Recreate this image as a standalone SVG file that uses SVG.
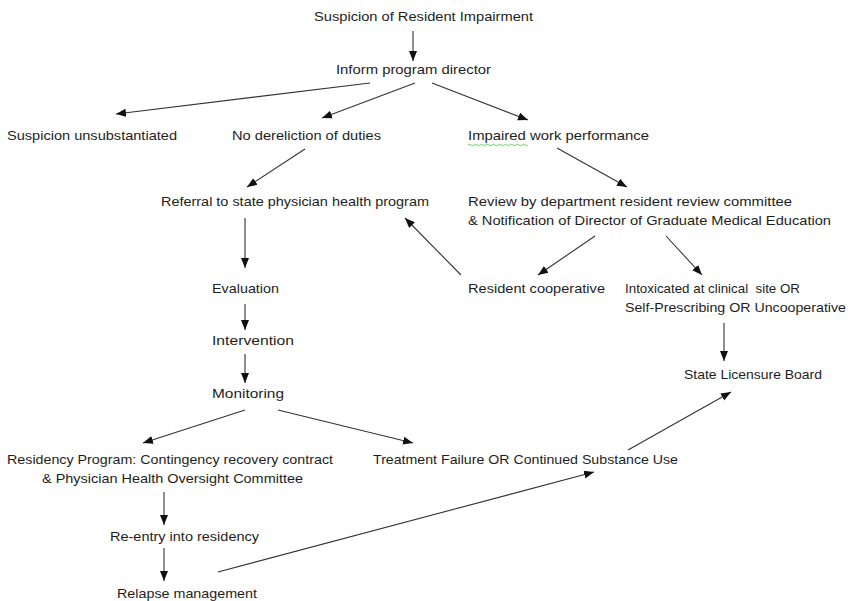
<svg xmlns="http://www.w3.org/2000/svg" width="851" height="601" viewBox="0 0 851 601">
<style>
text{font-family:"Liberation Sans",Arial,sans-serif;font-size:13px;fill:#1e1e1e;}
.c line{stroke:#333;stroke-width:1.1;marker-end:url(#ah);}
.c line.n{marker-end:none;}
</style>
<defs>
<marker id="ah" markerUnits="userSpaceOnUse" markerWidth="10" markerHeight="10" viewBox="0 0 10 10" refX="10" refY="5" orient="auto">
<path d="M0,1 L10,5 L0,9 Z" fill="#111"/>
</marker>
</defs>
<rect width="851" height="601" fill="#fff"/>
<g class="c" id="connectors">
<line x1="413" y1="31" x2="413" y2="61"/>
<line x1="370" y1="83" x2="116" y2="114"/>
<line x1="415" y1="83" x2="322" y2="118"/>
<line x1="432" y1="83" x2="528" y2="120"/>
<line x1="305" y1="149" x2="247" y2="187"/>
<line x1="557" y1="148" x2="627" y2="187"/>
<line x1="595" y1="236" x2="538" y2="275"/>
<line x1="666" y1="236" x2="702" y2="275"/>
<line x1="461" y1="275" x2="405" y2="218"/>
<line x1="245" y1="218" x2="245" y2="268"/>
<line x1="245" y1="304" x2="245" y2="330"/>
<line x1="245" y1="354" x2="245" y2="383"/>
<line x1="245" y1="410" x2="143" y2="443"/>
<line x1="278" y1="410" x2="413" y2="443"/>
<line x1="164" y1="492" x2="164" y2="525"/>
<line x1="164" y1="548" x2="164" y2="581"/>
<line x1="218" y1="572" x2="594" y2="472"/>
<line x1="628" y1="450" x2="731" y2="392"/>
<line x1="724" y1="323" x2="724" y2="361"/>
</g>
<g id="n-suspicion"><text x="314" y="21" textLength="219" lengthAdjust="spacingAndGlyphs">Suspicion of Resident Impairment</text></g>
<g id="n-inform"><text x="336" y="74" textLength="155" lengthAdjust="spacingAndGlyphs">Inform program director</text></g>
<g id="n-unsub"><text x="7" y="140" textLength="170" lengthAdjust="spacingAndGlyphs">Suspicion unsubstantiated</text></g>
<g id="n-nodereliction"><text x="232" y="140" textLength="149" lengthAdjust="spacingAndGlyphs">No dereliction of duties</text></g>
<g id="n-impaired"><text x="468" y="140" textLength="181" lengthAdjust="spacingAndGlyphs">Impaired work performance</text>
<path d="M468,145 q1.5,-1.5 3,0 t3,0 t3,0 t3,0 t3,0 t3,0 t3,0 t3,0 t3,0 t3,0 t3,0 t3,0 t3,0 t3,0 t3,0 t3,0 t3,0 t3,0 t3,0 t3,0" fill="none" stroke="#4cb84c" stroke-width="0.8"/></g>
<g id="n-referral"><text x="161" y="206" textLength="268" lengthAdjust="spacingAndGlyphs">Referral to state physician health program</text></g>
<g id="n-review"><text x="468" y="206" textLength="324" lengthAdjust="spacingAndGlyphs">Review by department resident review committee</text>
<text x="468" y="225" textLength="363" lengthAdjust="spacingAndGlyphs">&amp; Notification of Director of Graduate Medical Education</text></g>
<g id="n-cooperative"><text x="468" y="293" textLength="137" lengthAdjust="spacingAndGlyphs">Resident cooperative</text></g>
<g id="n-intoxicated"><text x="625" y="293" textLength="175" lengthAdjust="spacingAndGlyphs" xml:space="preserve">Intoxicated at clinical  site OR</text>
<text x="625" y="312" textLength="221" lengthAdjust="spacingAndGlyphs">Self-Prescribing OR Uncooperative</text></g>
<g id="n-evaluation"><text x="212" y="293" textLength="67" lengthAdjust="spacingAndGlyphs">Evaluation</text></g>
<g id="n-intervention"><text x="212" y="345" textLength="82" lengthAdjust="spacingAndGlyphs">Intervention</text></g>
<g id="n-monitoring"><text x="212" y="398" textLength="72" lengthAdjust="spacingAndGlyphs">Monitoring</text></g>
<g id="n-board"><text x="684" y="379" textLength="138" lengthAdjust="spacingAndGlyphs">State Licensure Board</text></g>
<g id="n-residency"><text x="7" y="464" textLength="326" lengthAdjust="spacingAndGlyphs">Residency Program: Contingency recovery contract</text>
<text x="42" y="483" textLength="261" lengthAdjust="spacingAndGlyphs">&amp; Physician Health Oversight Committee</text></g>
<g id="n-failure"><text x="373" y="464" textLength="305" lengthAdjust="spacingAndGlyphs">Treatment Failure OR Continued Substance Use</text></g>
<g id="n-reentry"><text x="110" y="541" textLength="149" lengthAdjust="spacingAndGlyphs">Re-entry into residency</text></g>
<g id="n-relapse"><text x="117" y="598" textLength="140" lengthAdjust="spacingAndGlyphs">Relapse management</text></g>
</svg>
